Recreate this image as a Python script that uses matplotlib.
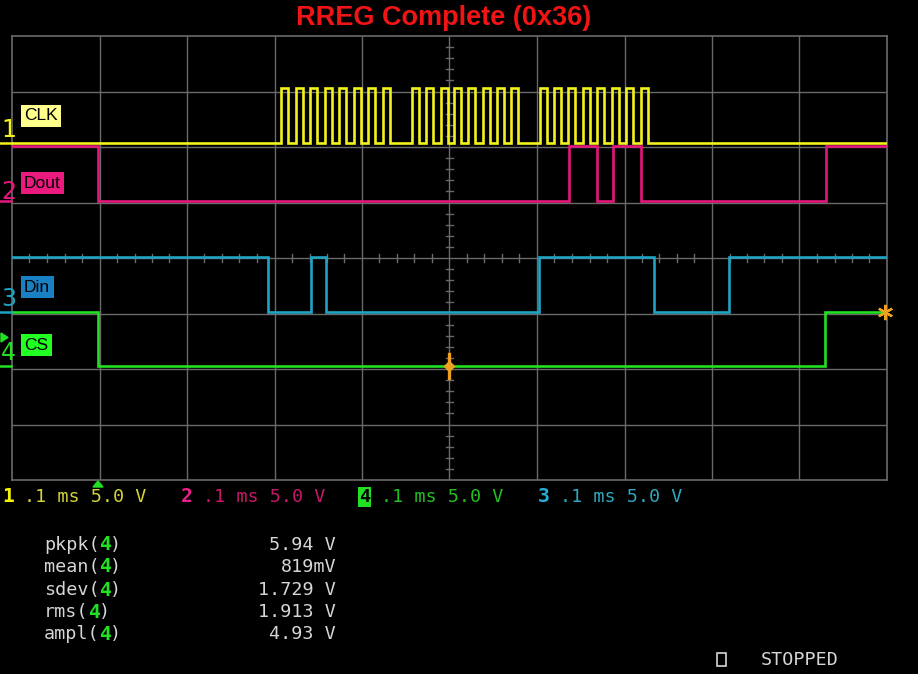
import numpy as np
import matplotlib
matplotlib.use("Agg")
import matplotlib.pyplot as plt
from matplotlib.patches import Rectangle

# ---------------- data (time in ms, 0.1 ms/div, 10 div) ----------------
clk_rise = [0.3074, 0.3246, 0.3406, 0.3577, 0.3737, 0.3909, 0.4069, 0.4240,
            0.4571, 0.4731, 0.4903, 0.5051, 0.5211, 0.5383, 0.5543, 0.5703,
            0.6034, 0.6194, 0.6354, 0.6526, 0.6686, 0.6857, 0.7017, 0.7189]
clk_high_ms = 0.0083
clk_start = 0        # initial logic state
dout_edges = [0.0983, 0.6366, 0.6686, 0.6869, 0.7189, 0.9303]
dout_start = 1
din_edges = [0.2926, 0.3417, 0.3589, 0.6023, 0.7337, 0.8194]
din_start = 1
cs_edges = [0.0983, 0.9291]
cs_start = 1
cs_end = 0.9977

# channel ground offsets in divisions (5 V/div) and high level in volts
offsets = {"CLK": 2.07, "Dout": 1.03, "Din": -0.97, "CS": -1.95}
v_high = 4.93
volts_per_div = 5.0

meas_names = ["pkpk", "mean", "sdev", "rms", "ampl"]
meas_values = ["5.94 V", "819mV", "1.729 V", "1.913 V", "4.93 V"]

chan_labels = ["CLK", "Dout", "Din", "CS"]
bottom_info = [("1", ".1 ms 5.0 V"), ("2", ".1 ms 5.0 V"),
               ("4", ".1 ms 5.0 V"), ("3", ".1 ms 5.0 V")]
title = "RREG Complete (0x36)"

# ---------------- styling ----------------
W, H = 918, 674
DPI = 100
col = {"CLK": "#f2f21c", "Dout": "#e6177c", "Din": "#1fa3c3", "CS": "#22e022"}
box_col = {"CLK": "#ffff8c", "Dout": "#ea1a7e", "Din": "#1a80c4", "CS": "#22ff22"}
grid_col = "#6a6a6a"
orange = "#f0a020"

fig = plt.figure(figsize=(W / DPI, H / DPI), dpi=DPI, facecolor="black")
L, R, T, B = 12, 887, 36, 480
ax = fig.add_axes([L / W, 1 - B / H, (R - L) / W, (B - T) / H])
ax.set_facecolor("black")
ax.set_xlim(0, 1.0)
ax.set_ylim(-4, 4)
ax.set_xticks([])
ax.set_yticks([])
for s in ax.spines.values():
    s.set_color(grid_col)
    s.set_linewidth(1.2)

# grid
for i in range(1, 10):
    ax.axvline(i * 0.1, color=grid_col, lw=1.0, zorder=1)
for j in range(-3, 4):
    ax.axhline(j, color=grid_col, lw=1.0, zorder=1)
# minor ticks on centre cross
for i in range(1, 50):
    if i % 5:
        ax.plot([i * 0.02, i * 0.02], [-0.07, 0.07], color=grid_col, lw=1.0, zorder=1)
for j in range(-19, 20):
    if j % 5:
        ax.plot([0.4955, 0.5045], [j * 0.2, j * 0.2], color=grid_col, lw=1.0, zorder=1)


def step_wave(edges, start, t_end=1.0):
    ts = [0.0]
    st = [start]
    s = start
    for e in edges:
        ts += [e, e]
        st += [s, 1 - s]
        s = 1 - s
    ts.append(t_end)
    st.append(s)
    return np.array(ts), np.array(st)


clk_edges = sorted(clk_rise + [r + clk_high_ms for r in clk_rise])
waves = {
    "CLK": step_wave(clk_edges, clk_start),
    "Dout": step_wave(dout_edges, dout_start),
    "Din": step_wave(din_edges, din_start),
    "CS": step_wave(cs_edges, cs_start, cs_end),
}
for name, (t, s) in waves.items():
    y = offsets[name] + s * v_high / volts_per_div
    ax.plot(t, y, color=col[name], lw=1.9, zorder=3, solid_joinstyle="miter")

# orange markers
ax.plot([0.5, 0.5], [-2.17, -1.73], color=orange, lw=2.4, zorder=5)
ax.plot([0.5], [offsets["CS"]], marker="D", color=orange, ms=5.5, zorder=6)
ax.plot([cs_end], [offsets["CS"] + v_high / volts_per_div], marker=(6, 2, 0),
        color=orange, ms=11, mew=1.6, zorder=6, clip_on=False)

# ---------------- figure-level text helpers ----------------
def px(x, y):
    return x / W, 1 - y / H


# title
fig.text(*px(444, 18), title, color="#f01414", fontsize=19.5, fontweight="bold",
         family="Liberation Sans", ha="center", va="center")

# channel labels with coloured boxes
label_pos = {"CLK": 116, "Dout": 183, "Din": 287, "CS": 345}
for name in chan_labels:
    fig.text(*px(24, label_pos[name]), name, color="black", fontsize=12.5,
             family="Liberation Sans", ha="left", va="center",
             bbox=dict(boxstyle="square,pad=0.2", fc=box_col[name], ec="none"))

# ground markers on left
mono = "DejaVu Sans Mono"
gnd_marks = [("1", "CLK", 130), ("2", "Dout", 192), ("3", "Din", 299), ("4", "CS", 353)]
for num, name, ypix in gnd_marks:
    fig.text(*px(1, ypix), num, color=col[name], fontsize=17, family="Liberation Sans Narrow",
             ha="left", va="center")
    y_line = 1 - ((258 - offsets[name] * 55.5)) / H
    fig.add_artist(plt.Line2D([0, 11 / W], [y_line, y_line], color=col[name], lw=1.8))
fig.add_artist(plt.Polygon([px(1, 333), px(1, 342), px(8, 337.5)], closed=True,
                           color=col["CS"]))
# trigger position marker at bottom
fig.add_artist(plt.Polygon([px(93, 487), px(103, 487), px(98, 481)], closed=True,
                           color=col["CS"]))

# bottom channel info
fs_mono = 13.2
cw = 0.602 * fs_mono * DPI / 72  # char width px
info_x = [2, 181, 359, 538]
num_col = {"1": "#f4f400", "2": "#e8208a", "4": "#22e022", "3": "#22b0d8"}
rest_col = {"1": "#d4d43a", "2": "#c8186c", "4": "#22c022", "3": "#30a8c0"}
for (num, rest), x0 in zip(bottom_info, info_x):
    if num == "4":
        fig.text(*px(x0, 497), num, color="black", fontsize=fs_mono, family=mono,
                 ha="left", va="center", fontweight="bold",
                 bbox=dict(boxstyle="square,pad=0.05", fc=num_col[num], ec="none"))
    else:
        fig.text(*px(x0, 497), num, color=num_col[num], fontsize=fs_mono + 1, family=mono,
                 ha="left", va="center", fontweight="bold")
    fig.text(*px(x0 + 2 * cw, 497), rest, color=rest_col[num], fontsize=fs_mono,
             family=mono, ha="left", va="center")

# measurements
meas_y = [545, 567, 590, 612, 634]
gray = "#d6d6d6"
for name, val, yy in zip(meas_names, meas_values, meas_y):
    fig.text(*px(44, yy), name + "(", color=gray, fontsize=fs_mono, family=mono,
             ha="left", va="center")
    fig.text(*px(44 + (len(name) + 1) * cw, yy), "4", color="#22e022",
             fontsize=fs_mono + 1, family=mono, fontweight="bold", ha="left", va="center")
    fig.text(*px(44 + (len(name) + 2) * cw, yy), ")", color=gray, fontsize=fs_mono,
             family=mono, ha="left", va="center")
    fig.text(*px(336, yy), val, color=gray, fontsize=fs_mono, family=mono,
             ha="right", va="center")

# status
fig.add_artist(Rectangle(px(717, 666), 9 / W, 13 / H, fill=False, ec=gray, lw=1.2))
fig.text(*px(761, 660), "STOPPED", color=gray, fontsize=fs_mono, family=mono,
         ha="left", va="center")

fig.savefig("out.png", dpi=DPI, facecolor="black")
